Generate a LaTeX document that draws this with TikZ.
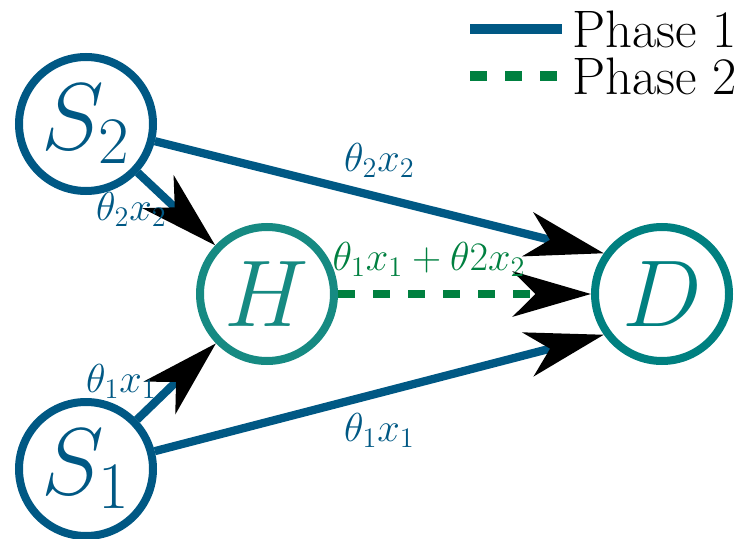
\RequirePackage{fix-cm}
\documentclass[tikz,border=0pt]{standalone}
\usepackage{amsmath,amssymb}
\usepackage{xcolor}
\usepackage{tikz}
\usetikzlibrary{arrows.meta, positioning}

\definecolor{azulfase}{RGB}{0,88,132}
\definecolor{verdefase}{RGB}{0,128,64}
\definecolor{tealdestino}{RGB}{0,128,128}
\definecolor{tealrelay}{RGB}{22,138,130}

\begin{document}
\begin{tikzpicture}[
        no_base/.style={circle, draw, line width=0.16cm, minimum size=2.68cm, inner sep=0pt, font=\fontsize{54}{60}\selectfont},
        no_fonte/.style={no_base, draw=azulfase, text=azulfase},
        no_relay/.style={no_base, draw=tealrelay, text=tealrelay},
        no_destino/.style={no_base, draw=tealdestino, text=tealdestino},
        fase1/.style={line width=0.165cm, azulfase},
        fase2/.style={line width=0.165cm, verdefase, dash pattern=on 0.34cm off 0.36cm},
        seta/.style={-{Stealth[length=1.56cm, width=0.9cm, inset=0.45cm, black]}},
        rotulo/.style={font=\fontsize{23}{28}\selectfont},
        legenda/.style={font=\fontsize{30}{36}\selectfont, text=black, inner xsep=0.2cm, inner ysep=0pt, outer sep=0pt}
    ]
    \useasboundingbox (0,0) rectangle (14.78,10.76);

    % nos
    \node[no_fonte] (S2) at (1.72,8.28) {$S_2$};
    \node[no_fonte] (S1) at (1.72,1.38) {$S_1$};
    \node[no_relay] (H) at (5.34,4.88) {$H$};
    \node[no_destino] (D) at (13.24,4.88) {$D$};

    % fase 1
    \draw[fase1, seta] (S2) -- (H) node[rotulo, midway, left] (r_s2h) {$\theta_2x_2$};
    \draw[fase1, seta] (S1) -- (H) node[rotulo, midway, left, xshift=-0.2cm] (r_s1h) {$\theta_1x_1$};
    \draw[fase1, seta] (S2) -- (D.145) node[rotulo, midway, above=0.2cm] (r_s2d) {$\theta_2x_2$};
    \draw[fase1, seta] (S1) -- (D.215) node[rotulo, midway, below=0.2cm] (r_s1d) {$\theta_1x_1$};

    % fase 2
    \draw[fase2, seta] (H) -- (D) node[rotulo, pos=0.36, above=0.15cm, text=verdefase] (r_hd) {$\theta_1x_1+\theta2x_2$};

    % legenda
    \coordinate (leg1_ini) at (9.4,10.18);
    \coordinate (leg1_fim) at (11.24,10.18);
    \coordinate (leg2_ini) at (9.4,9.24);
    \coordinate (leg2_fim) at (11.24,9.24);
    \draw[fase1, line width=0.2cm] (leg1_ini) -- (leg1_fim) node[legenda, right] (leg1) {Phase 1};
    \draw[fase2, line width=0.2cm] (leg2_ini) -- (leg2_fim) node[legenda, right] (leg2) {Phase 2};
\end{tikzpicture}
\end{document}
